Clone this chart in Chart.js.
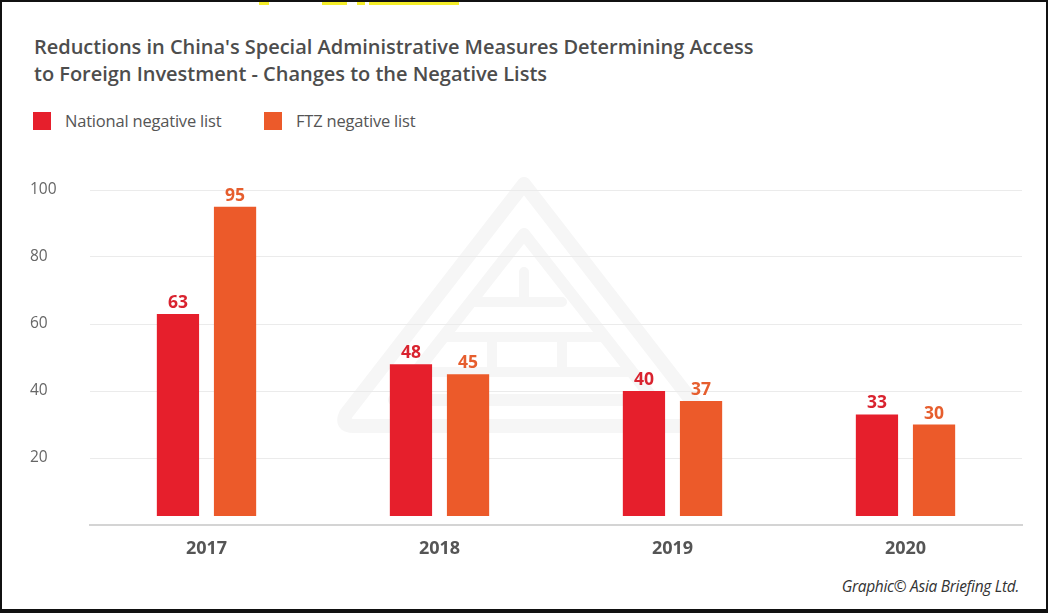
<!DOCTYPE html>
<html>
<head>
<meta charset="utf-8">
<script src="https://cdn.jsdelivr.net/npm/chart.js@4"></script>
<style>
  html, body { margin:0; padding:0; background:#fff; }
  #frame { position:absolute; left:0; top:0; width:1048px; height:613px; box-sizing:border-box; border:2px solid #111; border-bottom-width:4px; background:#fff; overflow:hidden; font-family:"Open Sans", sans-serif; }
  .ybit { position:absolute; top:0; height:3px; background:#f5ee2a; }
  #wm { position:absolute; left:0; top:0; }
  #title { position:absolute; left:32px; top:31px; font-size:20px; font-weight:600; color:#4d4d4d; line-height:27px; letter-spacing:-0.02px; white-space:nowrap; }
  #legend { position:absolute; left:31px; top:108px; font-size:16.5px; color:#555; letter-spacing:-0.2px; }
  .li { position:absolute; top:0; white-space:nowrap; }
  .sw { position:absolute; top:2px; width:18px; height:18px; }
  .lt { position:absolute; top:-1px; }
  #credit { position:absolute; right:27px; top:573px; font-size:15.5px; font-style:italic; color:#333; letter-spacing:-0.3px; white-space:nowrap; }
  #cwrap { position:absolute; left:0; top:166px; width:1044px; height:404px; }
</style>
</head>
<body>
<div id="frame">
  <svg id="wm" width="1048" height="613" viewBox="0 0 1048 613">
    <g fill="none" stroke="#f6f6f6" stroke-linejoin="round" stroke-linecap="round">
      <path d="M522 182 L700 412 Q706 424 692 424 L352 424 Q338 424 344 412 Z" stroke-width="14"/>
      <path d="M522 232 L652 398 L392 398 Z" stroke-width="12"/>
      <path d="M470 300 L560 300 M445 335 L600 335 M420 370 L630 370" stroke-width="10"/>
      <path d="M522 270 L522 300 M490 335 L490 370 M560 335 L560 370" stroke-width="10"/>
    </g>
  </svg>
  <div class="ybit" style="left:257px;width:10px"></div>
  <div class="ybit" style="left:320px;width:25px"></div>
  <div class="ybit" style="left:355px;width:8px"></div>
  <div class="ybit" style="left:367px;width:90px"></div>
  <div id="title">Reductions in China's Special Administrative Measures Determining Access<br>to Foreign Investment - Changes to the Negative Lists</div>
  <div id="legend"></div>
  <div id="cwrap"><canvas id="c"></canvas></div>
  <div id="credit">Graphic© Asia Briefing Ltd.</div>
</div>
<script>
const categories = ["2017", "2018", "2019", "2020"];
const seriesNames = ["National negative list", "FTZ negative list"];
const nationalValues = [63, 48, 40, 33];
const ftzValues = [95, 45, 37, 30];
const yTicks = [20, 40, 60, 80, 100];

const barColors = ["#e61f2c", "#ec5a2a"];
const labelColors = ["#d9232f", "#e65e2e"];

const legend = document.getElementById('legend');
const legendX = [0, 231];
seriesNames.forEach((n, i) => {
  const d = document.createElement('div');
  d.className = 'li';
  d.style.left = legendX[i] + 'px';
  d.innerHTML = '<div class="sw" style="left:0;background:' + barColors[i] + '"></div><div class="lt" style="left:32px">' + n + '</div>';
  legend.appendChild(d);
});

const valueLabels = {
  id: 'valueLabels',
  afterDatasetsDraw(chart) {
    const ctx = chart.ctx;
    ctx.save();
    ctx.font = 'bold 17.5px "Open Sans", sans-serif';
    ctx.textAlign = 'center';
    ctx.textBaseline = 'alphabetic';
    chart.data.datasets.forEach((ds, di) => {
      const meta = chart.getDatasetMeta(di);
      ctx.fillStyle = labelColors[di];
      meta.data.forEach((bar, i) => {
        ctx.fillText(String(ds.data[i]), bar.x, bar.y - 6);
      });
    });
    ctx.restore();
  }
};

new Chart(document.getElementById('c'), {
  type: 'bar',
  data: {
    labels: categories,
    datasets: [
      { label: seriesNames[0], data: nationalValues, backgroundColor: barColors[0], base: 2.7 },
      { label: seriesNames[1], data: ftzValues, backgroundColor: barColors[1], base: 2.7 }
    ]
  },
  options: {
    responsive: true,
    maintainAspectRatio: false,
    animation: false,
    datasets: { bar: { categoryPercentage: 0.49, barPercentage: 0.74 } },
    layout: { padding: { left: 28, right: 24, top: 22, bottom: 0 } },
    plugins: { legend: { display: false }, title: { display: false }, tooltip: { enabled: false } },
    scales: {
      x: {
        grid: { display: false, drawTicks: false },
        border: { display: true, color: '#d4d4d4', width: 2 },
        ticks: { color: '#555', font: { family: '"Open Sans", sans-serif', size: 18, weight: 'bold' }, padding: 13 },
        afterFit(s) { s.height = 47; }
      },
      y: {
        min: 0, max: 100,
        afterBuildTicks(s) { s.ticks = [0].concat(yTicks).map(v => ({ value: v })); },
        grid: { color: (c) => c.tick && c.tick.value === 0 ? 'rgba(0,0,0,0)' : '#ebebeb', lineWidth: 1, drawTicks: false },
        border: { display: false },
        ticks: {
          color: '#666', font: { family: '"Open Sans", sans-serif', size: 15.5 }, crossAlign: 'far', padding: 0,
          callback: (v) => v === 0 ? '' : String(v)
        },
        afterFit(s) { s.width = 60; }
      }
    }
  },
  plugins: [valueLabels]
});
</script>
</body>
</html>
